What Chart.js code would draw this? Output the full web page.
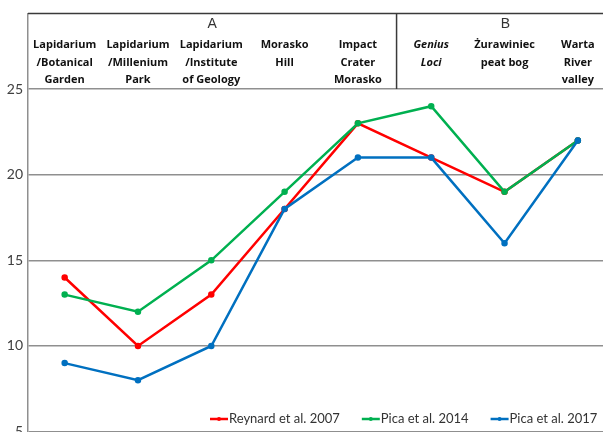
<!DOCTYPE html>
<html>
<head>
<meta charset="utf-8">
<script src="https://cdn.jsdelivr.net/npm/chart.js@4"></script>
<style>
  html, body { margin: 0; padding: 0; background: #fff; width: 603px; height: 432px; overflow: hidden; }
  #wrap { position: absolute; left: 0; top: 0; width: 620px; height: 445px; }
</style>
</head>
<body>
<div id="wrap"><canvas id="chart" width="620" height="445"></canvas></div>
<script>
// site labels (one array per line of text)
const categories = [
    ['Lapidarium', '/Botanical', 'Garden'],
    ['Lapidarium', '/Millenium', 'Park'],
    ['Lapidarium', '/Institute', 'of Geology'],
    ['Morasko', 'Hill'],
    ['Impact', 'Crater', 'Morasko'],
    ['Genius', 'Loci'],
    ['Żurawiniec', 'peat bog'],
    ['Warta', 'River', 'valley'],
];
const italicCategory = 5;
const groups = ['A', 'B'];
const groupSplit = 5; // first category of group B

const reynard2007 = [14, 10, 13, 18, 23, 21, 19, 22];
const pica2014 = [13, 12, 15, 19, 23, 24, 19, 22];
const pica2017 = [9, 8, 10, 18, 21, 21, 16, 22];
const yTicks = [5, 10, 15, 20, 25];

const FONT = "Lato, 'Open Sans', sans-serif";
const LABEL_FONT = "'Open Sans', sans-serif";
const GRID = '#8f8f8f';

// header box with group letters and site names
const headerPlugin = {
    id: 'header',
    afterDraw(chart) {
        const { ctx, chartArea, scales } = chart;
        const x = scales.x;
        const top = chartArea.top;
        const bottom = scales.y.getPixelForValue(25);
        const divX = (x.getPixelForValue(groupSplit - 1) + x.getPixelForValue(groupSplit)) / 2 + 2;

        ctx.save();
        ctx.strokeStyle = '#3a3a3a';
        ctx.lineWidth = 1.5;
        ctx.beginPath();
        ctx.moveTo(chartArea.left, top);
        ctx.lineTo(chartArea.right + 10, top);
        ctx.moveTo(divX, top);
        ctx.lineTo(divX, bottom);
        ctx.stroke();

        ctx.fillStyle = '#333';
        ctx.font = "14px 'Liberation Sans', Arial, sans-serif";
        ctx.textAlign = 'center';
        ctx.textBaseline = 'middle';
        ctx.fillText(groups[0], (chartArea.left + divX) / 2, 24);
        ctx.fillText(groups[1], (divX + chartArea.right) / 2, 24);

        categories.forEach((lines, i) => {
            const cx = x.getPixelForValue(i);
            ctx.font = (i === italicCategory ? 'italic ' : '') + 'bold 11px ' + LABEL_FONT;
            ctx.fillStyle = '#111';
            lines.forEach((t, j) => ctx.fillText(t, cx, 45 + j * 17.6));
        });
        ctx.restore();
    },
};

// legend laid into the lower right of the plot
const legendPlugin = {
    id: 'innerLegend',
    afterDraw(chart) {
        const { ctx } = chart;
        const y = 419;
        let xPos = 210;
        ctx.save();
        ctx.font = '13px ' + FONT;
        ctx.textBaseline = 'middle';
        ctx.textAlign = 'left';
        chart.data.datasets.forEach((ds) => {
            ctx.strokeStyle = ds.borderColor;
            ctx.fillStyle = ds.borderColor;
            ctx.lineWidth = 2.5;
            ctx.beginPath();
            ctx.moveTo(xPos, y);
            ctx.lineTo(xPos + 18, y);
            ctx.stroke();
            ctx.beginPath();
            ctx.arc(xPos + 9, y, 2, 0, Math.PI * 2);
            ctx.fill();
            ctx.fillStyle = '#333';
            ctx.fillText(ds.label, xPos + 19, y);
            xPos += 19 + ctx.measureText(ds.label).width + 22;
        });
        ctx.restore();
    },
};

const series = (label, data, color, order) => ({
    label,
    data,
    borderColor: color,
    backgroundColor: color,
    borderWidth: 2.5,
    pointRadius: 2,
    pointHoverRadius: 3,
    tension: 0,
    order,
});

new Chart(document.getElementById('chart'), {
    type: 'line',
    data: {
        labels: categories,
        datasets: [
            series('Reynard et al. 2007', reynard2007, '#ff0000', 3),
            series('Pica et al. 2014', pica2014, '#00b050', 2),
            series('Pica et al. 2017', pica2017, '#0070c0', 1),
        ],
    },
    options: {
        responsive: false,
        animation: false,
        devicePixelRatio: 1,
        layout: { padding: { top: 12, bottom: 10, left: 1, right: 5 } },
        plugins: {
            legend: { display: false },
            tooltip: { enabled: false },
        },
        scales: {
            x: {
                display: false,
                offset: true,
            },
            y: {
                min: 5,
                max: 29.42,
                afterBuildTicks: (scale) => {
                    scale.ticks = yTicks.map((v) => ({ value: v }));
                },
                afterFit: (scale) => {
                    scale.width = 27;
                },
                grid: {
                    color: GRID,
                    lineWidth: 1.5,
                    drawTicks: false,
                },
                border: { color: GRID, width: 1.5 },
                ticks: {
                    color: '#404040',
                    padding: 5,
                    font: { family: FONT, size: 14 },
                },
            },
        },
    },
    plugins: [headerPlugin, legendPlugin],
});
</script>
</body>
</html>
